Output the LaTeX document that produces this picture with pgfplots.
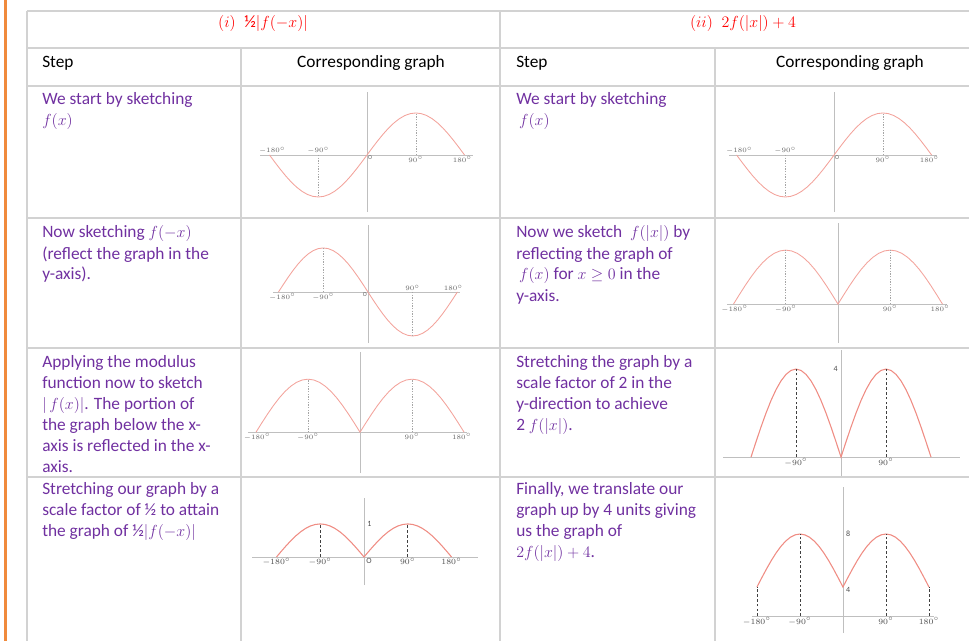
\documentclass[border=0pt]{standalone}
\usepackage{fontspec}
\setmainfont{Carlito}
\usepackage{pgfplots}
\usepackage{pgfplotstable}
\pgfplotsset{compat=1.18}

\definecolor{purp}{HTML}{7030A0}
\definecolor{hdr}{HTML}{FF0000}
\definecolor{rule}{HTML}{D2D2D2}
\definecolor{bar}{HTML}{F08A3C}
\definecolor{crv}{HTML}{F3A39C}
\definecolor{crvb}{HTML}{EF8C83}

% x, sin x, sin(-x), |sin x|, 2|sin x|, 4+4|sin x|
\pgfplotstableread{
x s n a d e
-180 0 0 0 0 4
-170 -0.174 0.174 0.174 0.347 4.695
-160 -0.342 0.342 0.342 0.684 5.368
-150 -0.5 0.5 0.5 1 6
-140 -0.643 0.643 0.643 1.286 6.571
-130 -0.766 0.766 0.766 1.532 7.064
-120 -0.866 0.866 0.866 1.732 7.464
-110 -0.940 0.940 0.940 1.879 7.759
-100 -0.985 0.985 0.985 1.970 7.939
-90 -1 1 1 2 8
-80 -0.985 0.985 0.985 1.970 7.939
-70 -0.940 0.940 0.940 1.879 7.759
-60 -0.866 0.866 0.866 1.732 7.464
-50 -0.766 0.766 0.766 1.532 7.064
-40 -0.643 0.643 0.643 1.286 6.571
-30 -0.5 0.5 0.5 1 6
-20 -0.342 0.342 0.342 0.684 5.368
-10 -0.174 0.174 0.174 0.347 4.695
0 0 0 0 0 4
10 0.174 -0.174 0.174 0.347 4.695
20 0.342 -0.342 0.342 0.684 5.368
30 0.5 -0.5 0.5 1 6
40 0.643 -0.643 0.643 1.286 6.571
50 0.766 -0.766 0.766 1.532 7.064
60 0.866 -0.866 0.866 1.732 7.464
70 0.940 -0.940 0.940 1.879 7.759
80 0.985 -0.985 0.985 1.970 7.939
90 1 -1 1 2 8
100 0.985 -0.985 0.985 1.970 7.939
110 0.940 -0.940 0.940 1.879 7.759
120 0.866 -0.866 0.866 1.732 7.464
130 0.766 -0.766 0.766 1.532 7.064
140 0.643 -0.643 0.643 1.286 6.571
150 0.5 -0.5 0.5 1 6
160 0.342 -0.342 0.342 0.684 5.368
170 0.174 -0.174 0.174 0.347 4.695
180 0 0 0 0 4
}\sine

\pgfplotsset{
  sk/.style={axis lines=middle, axis line style={-, draw=black!25, line width=0.5pt},
    xtick=\empty, ytick=\empty, enlargelimits=false, clip=false, anchor=south west},
  curve/.style={draw=crv, line width=0.65pt, no markers},
  curveb/.style={draw=crvb, line width=0.8pt, no markers},
  dl/.style={draw=black!35, dash pattern=on 1pt off 1pt, line width=0.4pt, no markers},
  dk/.style={draw=black!75, dash pattern=on 2pt off 1.6pt, line width=0.5pt, no markers},
}
\tikzset{
  txt/.style={font=\fontsize{13}{15.75}\selectfont, text=purp, anchor=base west, inner sep=0pt},
  hd/.style={font=\fontsize{13}{15.75}\selectfont, anchor=base, inner sep=0pt},
  lab/.style={font=\fontsize{4.5}{5}\selectfont, text=black!60, inner sep=0.6pt},
  labb/.style={font=\fontsize{6}{6}\selectfont, text=black!70, inner sep=0.8pt},
}

\begin{document}
\begin{tikzpicture}[x=0.75pt,y=-0.75pt]
\path[use as bounding box] (0,0) rectangle (969,641);

% orange margin bar and table rules
\fill[bar] (4,0) rectangle (7,641);
\begin{scope}[draw=rule, line width=1.5pt]
\draw (27,11) -- (969,11);
\draw (27,48) -- (969,48);
\draw (27,86.5) -- (969,86.5);
\draw (27,218.5) -- (969,218.5);
\draw (27,348) -- (969,348);
\draw (27,476.5) -- (969,476.5);
\draw (27,11) -- (27,641);
\draw (500,11) -- (500,641);
\draw (241,48) -- (241,641);
\draw (715,48) -- (715,641);
\end{scope}

% headers
\node[hd, text=hdr] at (263,28) {$(i)$\enspace ½$|f(-x)|$};
\node[hd, text=hdr] at (743,28) {$(ii)$\enspace $2f(|x|)+4$};
\node[hd, anchor=base west] at (42,68) {Step};
\node[hd] at (371,68) {Corresponding graph};
\node[hd, anchor=base west] at (516,68) {Step};
\node[hd] at (850,68) {Corresponding graph};

% step texts, left half
\node[txt] at (42,105) {We start by sketching};
\node[txt] at (42,126) {$f(x)$};
\node[txt] at (42,238) {Now sketching $f(-x)$};
\node[txt] at (42,259) {(reflect the graph in the};
\node[txt] at (42,280) {y-axis).};
\node[txt] at (42,367) {Applying the modulus};
\node[txt] at (42,388) {function now to sketch};
\node[txt] at (42,409) {$|\,f(x)|$. The portion of};
\node[txt] at (42,430) {the graph below the x-};
\node[txt] at (42,451) {axis is reflected in the x-};
\node[txt] at (42,472) {axis.};
\node[txt] at (42,494) {Stretching our graph by a};
\node[txt] at (42,515) {scale factor of ½ to attain};
\node[txt] at (42,536) {the graph of ½$|f(-x)|$};

% step texts, right half
\node[txt] at (516,105) {We start by sketching};
\node[txt] at (516,126) {\,$f(x)$};
\node[txt] at (516,238) {Now we sketch \ $f(|x|)$ by};
\node[txt] at (516,259) {reflecting the graph of};
\node[txt] at (516,280) {\,$f(x)$ for $x\geq 0$ in the};
\node[txt] at (516,301) {y-axis.};
\node[txt] at (516,367) {Stretching the graph by a};
\node[txt] at (516,388) {scale factor of 2 in the};
\node[txt] at (516,409) {y-direction to achieve};
\node[txt] at (516,430) {2 $f(|x|)$.};
\node[txt] at (516,494) {Finally, we translate our};
\node[txt] at (516,515) {graph up by 4 units giving};
\node[txt] at (516,536) {us the graph of};
\node[txt] at (516,557) {$2f(|x|)+4$.};

% graph 1: f(x)
\begin{axis}[sk, at={(195.225pt,-159.075pt)}, x=0.40625pt, y=31.5pt,
  xmin=-197, xmax=196, ymin=-1.36, ymax=1.5]
\addplot[curve] table[x=x, y=s] {\sine};
\addplot[dl] coordinates {(-90,0) (-90,-1)};
\addplot[dl] coordinates {(90,0) (90,1)};
\node[lab, anchor=south] at (axis cs:-175,0) {$-180^\circ$};
\node[lab, anchor=south] at (axis cs:-90,0) {$-90^\circ$};
\node[lab, anchor=north west] at (axis cs:0,0) {O};
\node[lab, anchor=north] at (axis cs:90,0) {$90^\circ$};
\node[lab, anchor=north] at (axis cs:176,0) {$180^\circ$};
\end{axis}

% graph 2: f(x)
\begin{axis}[sk, at={(546.75pt,-159.075pt)}, x=0.40625pt, y=31.5pt,
  xmin=-194, xmax=190, ymin=-1.36, ymax=1.5]
\addplot[curve] table[x=x, y=s] {\sine};
\addplot[dl] coordinates {(-90,0) (-90,-1)};
\addplot[dl] coordinates {(90,0) (90,1)};
\node[lab, anchor=south] at (axis cs:-175,0) {$-180^\circ$};
\node[lab, anchor=south] at (axis cs:-90,0) {$-90^\circ$};
\node[lab, anchor=north west] at (axis cs:0,0) {O};
\node[lab, anchor=north] at (axis cs:90,0) {$90^\circ$};
\node[lab, anchor=north] at (axis cs:176,0) {$180^\circ$};
\end{axis}

% graph 3: f(-x)
\begin{axis}[sk, at={(204.75pt,-257.25pt)}, x=0.37275pt, y=33pt,
  xmin=-191, xmax=185, ymin=-1.16, ymax=1.52]
\addplot[curve] table[x=x, y=n] {\sine};
\addplot[dl] coordinates {(-90,0) (-90,1)};
\addplot[dl] coordinates {(90,0) (90,-1)};
\node[lab, anchor=north] at (axis cs:-172,0) {$-180^\circ$};
\node[lab, anchor=north] at (axis cs:-90,0) {$-90^\circ$};
\node[lab, anchor=north east] at (axis cs:0,0) {O};
\node[lab, anchor=south] at (axis cs:90,0) {$90^\circ$};
\node[lab, anchor=south] at (axis cs:172,0) {$180^\circ$};
\end{axis}

% graph 4: |f(x)|
\begin{axis}[sk, at={(185.925pt,-354.75pt)}, x=0.4335pt, y=39.75pt,
  xmin=-194, xmax=185, ymin=-0.77, ymax=1.51]
\addplot[curve] table[x=x, y=a] {\sine};
\addplot[dl] coordinates {(-90,0) (-90,1)};
\addplot[dl] coordinates {(90,0) (90,1)};
\node[lab, anchor=north] at (axis cs:-178,0) {$-180^\circ$};
\node[lab, anchor=north] at (axis cs:-90,0) {$-90^\circ$};
\node[lab, anchor=north] at (axis cs:90,0) {$90^\circ$};
\node[lab, anchor=north] at (axis cs:176,0) {$180^\circ$};
\end{axis}

% graph 5: f(|x|)
\begin{axis}[sk, at={(545.325pt,-257.25pt)}, x=0.4354pt, y=40.5pt,
  xmin=-191, xmax=188, ymin=-0.72, ymax=1.5]
\addplot[curve] table[x=x, y=a] {\sine};
\addplot[dl] coordinates {(-90,0) (-90,1)};
\addplot[dl] coordinates {(90,0) (90,1)};
\node[lab, anchor=north] at (axis cs:-178,0) {$-180^\circ$};
\node[lab, anchor=north] at (axis cs:-90,0) {$-90^\circ$};
\node[lab, anchor=north] at (axis cs:90,0) {$90^\circ$};
\node[lab, anchor=north] at (axis cs:176,0) {$180^\circ$};
\end{axis}

% graph 6: 2f(|x|)
\begin{axis}[sk, at={(542.25pt,-357pt)}, x=0.375pt, y=33pt,
  xmin=-236, xmax=238, ymin=-0.43, ymax=2.43]
\addplot[curveb] table[x=x, y=d] {\sine};
\addplot[dk] coordinates {(-90,0) (-90,2)};
\addplot[dk] coordinates {(90,0) (90,2)};
\node[labb, anchor=north] at (axis cs:-90,0) {$-90^\circ$};
\node[labb, anchor=north] at (axis cs:90,0) {$90^\circ$};
\node[labb, anchor=east] at (axis cs:-4,2) {4};
\end{axis}

% graph 7: 1/2|f(-x)|
\begin{axis}[sk, at={(189.15pt,-438.75pt)}, x=0.3646pt, y=24.75pt,
  xmin=-230, xmax=235, ymin=-0.85, ymax=1.79]
\addplot[curveb] table[x=x, y=a] {\sine};
\addplot[dk] coordinates {(-90,0) (-90,1)};
\addplot[dk] coordinates {(90,0) (90,1)};
\node[labb, anchor=north] at (axis cs:-180,0) {$-180^\circ$};
\node[labb, anchor=north] at (axis cs:-90,0) {$-90^\circ$};
\node[labb, anchor=north west] at (axis cs:2,0) {O};
\node[labb, anchor=north] at (axis cs:90,0) {$90^\circ$};
\node[labb, anchor=north] at (axis cs:180,0) {$180^\circ$};
\node[labb, anchor=west] at (axis cs:4,1) {1};
\end{axis}

% graph 8: 2f(|x|)+4 (x-axis of the sketch sits at y=1.81)
\begin{axis}[hide axis, clip=false, anchor=south west, enlargelimits=false,
  at={(560.55pt,-474.75pt)}, x=0.3583pt, y=9.9375pt,
  xmin=-200, xmax=200, ymin=0.53, ymax=11.55]
\addplot[draw=black!25, line width=0.5pt, no markers] coordinates {(-190,1.81) (190,1.81)};
\addplot[draw=black!25, line width=0.5pt, no markers] coordinates {(0,0.53) (0,11.55)};
\addplot[curveb] table[x=x, y=e] {\sine};
\addplot[dk] coordinates {(-180,1.81) (-180,4)};
\addplot[dk] coordinates {(-90,1.81) (-90,8)};
\addplot[dk] coordinates {(90,1.81) (90,8)};
\addplot[dk] coordinates {(180,1.81) (180,4)};
\node[labb, anchor=north] at (axis cs:-180,1.81) {$-180^\circ$};
\node[labb, anchor=north] at (axis cs:-90,1.81) {$-90^\circ$};
\node[labb, anchor=north] at (axis cs:90,1.81) {$90^\circ$};
\node[labb, anchor=north] at (axis cs:180,1.81) {$180^\circ$};
\node[labb, anchor=west] at (axis cs:4,8) {8};
\node[labb, anchor=west] at (axis cs:4,3.8) {4};
\end{axis}
\end{tikzpicture}
\end{document}
